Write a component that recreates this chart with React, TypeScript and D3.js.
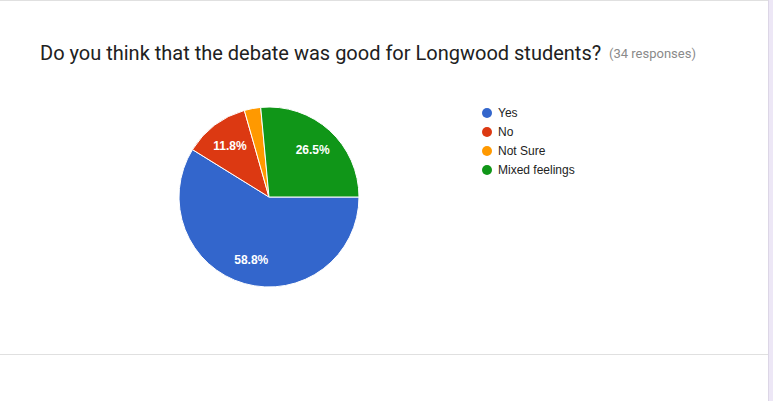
import React from 'react';
import * as d3 from 'd3';

const categories = ['Yes', 'No', 'Not Sure', 'Mixed feelings'];
const counts = [20, 4, 1, 9];
const colors = ['#3366cc', '#dc3912', '#ff9900', '#109618'];
const title = 'Do you think that the debate was good for Longwood students?';
const responsesNote = '(34 responses)';

type Slice = { name: string; value: number; color: string };

const slices: Slice[] = categories.map((name, i) => ({ name, value: counts[i], color: colors[i] }));

export default function App() {
  const width = 773;
  const height = 401;
  const cx = 269;
  const cy = 197;
  const radius = 90;
  const total = d3.sum(counts);

  // google charts pie: first slice starts at 3 o'clock here, clockwise
  const pie = d3.pie<Slice>()
    .sort(null)
    .value(d => d.value)
    .startAngle(Math.PI / 2)
    .endAngle(Math.PI / 2 + 2 * Math.PI);

  const arc = d3.arc<d3.PieArcDatum<Slice>>()
    .innerRadius(0)
    .outerRadius(radius);

  const labelArc = d3.arc<d3.PieArcDatum<Slice>>()
    .innerRadius(radius * 0.72)
    .outerRadius(radius * 0.72);

  const arcs = pie(slices);

  const legendY = d3.scalePoint<string>()
    .domain(categories)
    .range([113, 170]);

  return (
    <svg
      width={width}
      height={height}
      style={{ position: 'absolute', left: 0, top: 0, display: 'block' }}
    >
      <rect x={0} y={0} width={width} height={height} fill="#ede7f6" />
      <rect x={0} y={0} width={768} height={height} fill="#ffffff" />
      <line x1={0} x2={768} y1={0.5} y2={0.5} stroke="#e0e0e0" />
      <line x1={768.5} x2={768.5} y1={0} y2={height} stroke="#dcd6e6" />

      <text
        x={40}
        y={60}
        fontFamily="Roboto"
        fontSize={20}
        fill="#212121"
      >
        {title}
      </text>
      <text x={609} y={58} fontFamily="Roboto" fontSize={13} fill="#8a8a8a">
        {responsesNote}
      </text>

      <g transform={`translate(${cx},${cy})`}>
        {arcs.map(a => (
          <path key={a.data.name} d={arc(a) ?? ''} fill={a.data.color} stroke="#ffffff" strokeWidth={1} />
        ))}
        {arcs.map(a => {
          const share = a.data.value / total;
          if (share < 0.05) return null;
          const [lx, ly] = labelArc.centroid(a);
          return (
            <text
              key={`l-${a.data.name}`}
              x={lx}
              y={ly}
              dy="0.38em"
              textAnchor="middle"
              fontFamily="Liberation Sans, Arial"
              fontSize={12}
              fontWeight="bold"
              fill="#ffffff"
            >
              {`${(share * 100).toFixed(1)}%`}
            </text>
          );
        })}
      </g>

      <g>
        {slices.map(s => (
          <g key={`lg-${s.name}`} transform={`translate(487,${legendY(s.name)})`}>
            <circle r={5} fill={s.color} />
            <text x={11} dy="0.35em" fontFamily="Liberation Sans, Arial" fontSize={12} fill="#222222">
              {s.name}
            </text>
          </g>
        ))}
      </g>

      <line x1={0} x2={768} y1={354.5} y2={354.5} stroke="#e0e0e0" />
    </svg>
  );
}
